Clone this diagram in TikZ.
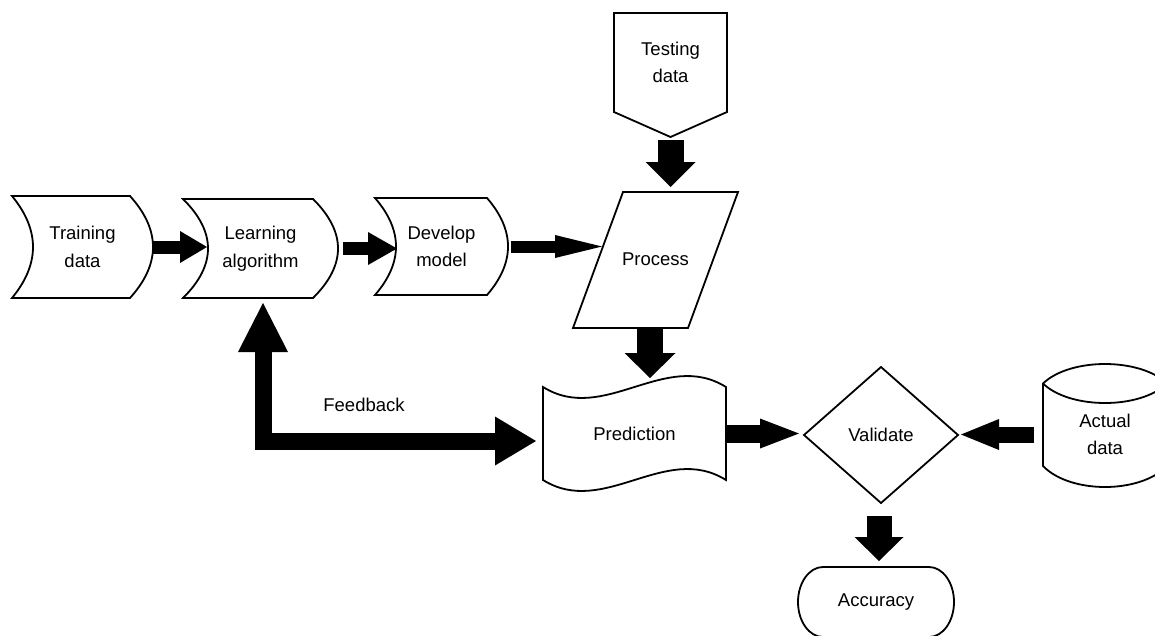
\documentclass[tikz,border=0pt]{standalone}
\usepackage{fontspec}
\setmainfont{Liberation Sans}
\usetikzlibrary{arrows.meta,calc,shapes.geometric}

% outline of a stored-data style box: concave left side, convex right side
% #1 node, #2 half width, #3 half height, #4 right bulge, #5 left indent
\newcommand\storedoutline[5]{%
  \draw[outline, shift={(#1.center)}]
    ({-#2},{-#3}) -- ({#2-#4},{-#3})
    .. controls ({#2+#4/3},{-#3/3}) and ({#2+#4/3},{#3/3}) .. ({#2-#4},{#3})
    -- ({-#2},{#3})
    .. controls ({-#2+4*#5/3},{#3/3}) and ({-#2+4*#5/3},{-#3/3}) .. ({-#2},{-#3})
    -- cycle;}

\tikzset{
  txt/.style={font=\fontsize{18.5pt}{27.5pt}\selectfont, align=center,
    inner sep=0pt, outer sep=0pt, text=black},
  boxed/.style n args={2}{txt, minimum width=#1, minimum height=#2},
  outline/.style={draw=black, line width=1.8pt, line join=miter},
  blk/.style n args={3}{draw=black, line width=#1,
    -{Triangle[length=#2, width=#3, line width=0pt]}},
}

\begin{document}
\begin{tikzpicture}[x=1pt, y=-1pt]
\useasboundingbox (0,0) rectangle (1155,635);
\clip (0,0) rectangle (1155,635);

% nodes
\node[boxed={141pt}{102pt}] (train) at (82.5,247)   {Training\\data};
\node[boxed={155pt}{99pt}]  (learn) at (260.5,248.5) {Learning\\algorithm};
\node[boxed={133pt}{97pt}]  (dev)   at (441.5,246.5) {Develop\\model};
\node[boxed={113pt}{99pt}]  (test)  at (670.5,62.5)  {Testing\\data};
\node[boxed={165pt}{136pt}] (proc)  at (655.5,259)   {Process};
\node[boxed={183pt}{93pt}]  (pred)  at (634.5,433.5) {Prediction};
\node[txt, diamond, outline, minimum width=154pt, minimum height=136pt]
                            (val)   at (881,435)     {Validate};
\node[boxed={124pt}{100pt}] (act)   at (1105,434.5)  {Actual\\data};
\node[boxed={156pt}{70pt}]  (acc)   at (876,602)     {Accuracy};
\node[txt] (fb) at (364,405) {Feedback};

% shape outlines
\storedoutline{train}{70.5}{51}{23}{21}
\storedoutline{learn}{77.5}{49.5}{25}{25}
\storedoutline{dev}{66.5}{48.5}{21}{21}

\draw[outline, shift={(test.center)}]
  (-56.5,-49.5) -- (56.5,-49.5) -- (56.5,49.5) -- (0,74.5) -- (-56.5,49.5) -- cycle;

\draw[outline, shift={(proc.center)}]
  (-32.5,-67) -- (82.5,-67) -- (32.5,69) -- (-82.5,69) -- cycle;

\draw[outline, shift={(pred.center)}]
  (-91.5,-46.5) .. controls (-30.5,-8.5) and (30.5,-84.5) .. (91.5,-46.5)
  -- (91.5,46.5) .. controls (30.5,8.5) and (-30.5,84.5) .. (-91.5,46.5) -- cycle;

% drum: body with a back rim on top, front rim drawn separately
\draw[outline, shift={(act.center)}]
  (-62,-51) .. controls (-35,-77) and (35,-77) .. (62,-51)
  -- (62,31.5) .. controls (35,59.5) and (-35,59.5) .. (-62,31.5)
  -- cycle;
\draw[outline, shift={(act.center)}]
  (-62,-51) .. controls (-35,-25) and (35,-25) .. (62,-51);

\draw[outline, shift={(acc.center)}]
  (-53,-35) -- (53,-35) arc[start angle=-90, end angle=90, x radius=25, y radius=35]
  -- (-53,35) arc[start angle=90, end angle=270, x radius=25, y radius=35] -- cycle;

% block arrows
\draw[blk={13pt}{27pt}{32pt}] (train.east) -- ($(train.east -| learn.west)+(24,0)$);
\draw[blk={12.5pt}{29pt}{33pt}] ($(learn.east)+(5,0)$) -- ($(learn.east -| dev.west)+(22,0)$);
\draw[blk={12pt}{47pt}{23pt}] ($(dev.east)+(3,0)$) -- ($(dev.east -| proc.west)+(29,0)$);
\draw[blk={26pt}{25pt}{50pt}] ($(test.south)+(0,28)$) -- ($(test.south |- proc.north)+(0,-4)$);
\draw[blk={26pt}{25pt}{51pt}] ($(proc.south)+(-5.5,2)$) -- ($(proc.south |- pred.north)+(-5.5,-9)$);
\draw[draw=black, line width=17pt,
  {Triangle[length=49pt, width=50pt, line width=0pt]}-{Triangle[length=41pt, width=49pt, line width=0pt]}]
  ($(learn.south)+(2.5,5)$) |- ($(pred.west)+(-7,7.5)$);
\draw[blk={18pt}{39pt}{30pt}] (pred.east) -- ($(pred.east -| val.west)+(-5,0)$);
\draw[blk={16pt}{38pt}{31pt}] ($(act.west)+(-9,0)$) -- ($(act.west -| val.east)+(3,0)$);
\draw[blk={25pt}{24pt}{49pt}] ($(val.south)+(-2,13)$) -- ($(val.south |- acc.north)+(-2,-6)$);
\end{tikzpicture}
\end{document}
